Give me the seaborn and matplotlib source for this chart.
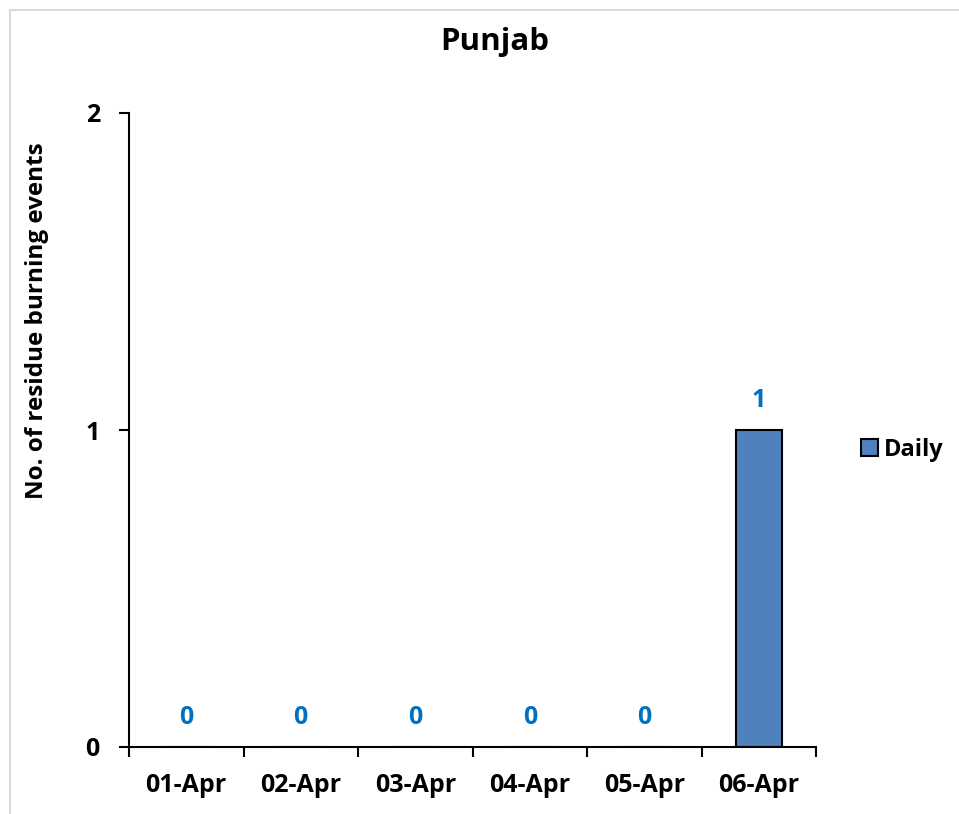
import numpy as np
import pandas as pd
import seaborn as sns
import matplotlib.pyplot as plt
from matplotlib.lines import Line2D
from matplotlib.patches import Patch

# data
dates = ['01-Apr', '02-Apr', '03-Apr', '04-Apr', '05-Apr', '06-Apr']
daily = [0, 0, 0, 0, 0, 1]

sns.set_theme(style='white')
plt.rcParams['font.family'] = ['Open Sans', 'DejaVu Sans']
plt.rcParams['font.weight'] = 'bold'
plt.rcParams['text.color'] = 'black'
plt.rcParams['axes.labelcolor'] = 'black'
plt.rcParams['xtick.color'] = 'black'
plt.rcParams['ytick.color'] = 'black'

df = pd.DataFrame({'date': dates, 'events': daily})

fig = plt.figure(figsize=(9.59, 8.14), dpi=100)
ax = fig.add_axes([129/959, 1 - 747/814, (816 - 129)/959, (747 - 113)/814])

sns.barplot(data=df, x='date', y='events', color='#4F81BD', saturation=1,
            width=0.4, edgecolor='black', linewidth=1.5, ax=ax)

#value labels above each bar
for i, v in enumerate(daily):
    ax.annotate(str(v), xy=(i, v), xytext=(0, 21), textcoords='offset points',
                ha='center', va='center', color='#0070C0', fontsize=18, fontweight='bold')

ax.set_ylim(0, 2)
ax.set_xlim(-0.5, len(dates) - 0.5)
ax.set_yticks([0, 1, 2])
ax.set_yticklabels(['0', '1', '2'], fontsize=18, fontweight='bold')
ax.set_xticks(range(len(dates)))
ax.set_xticklabels(dates, fontsize=18, fontweight='bold')
ax.tick_params(axis='x', length=0, pad=19)
ax.tick_params(axis='y', left=True, length=7, width=1.5, pad=14)
# tick marks between categories
ax.set_xticks(np.arange(-0.5, len(dates)), minor=True)
ax.tick_params(axis='x', which='minor', bottom=True, length=7, width=1.5, direction='out')

for s in ['top', 'right']:
    ax.spines[s].set_visible(False)
for s in ['left', 'bottom']:
    ax.spines[s].set_color('black')
    ax.spines[s].set_linewidth(1.5)

ax.set_xlabel('')
ax.set_ylabel('No. of residue burning events', fontsize=17.5, fontweight='bold')
ax.yaxis.set_label_coords(-0.117, 0.673)
fig.text(495/959, 1 - 42/814, 'Punjab', ha='center', va='center', fontsize=22.5, fontweight='bold')

handles = [Patch(facecolor='#4F81BD', edgecolor='black', linewidth=1.5, label='Daily')]
fig.legend(handles=handles, loc='center left', bbox_to_anchor=(840/959, 1 - 450/814),
           frameon=False, prop={'size': 17, 'weight': 'bold'}, handlelength=0.7,
           handleheight=0.7, handletextpad=0.25)

# light outer frame
fig.add_artist(Line2D([10/959, 10/959], [0, 1 - 10/814], transform=fig.transFigure, color='#d9d9d9', lw=1.5))
fig.add_artist(Line2D([10/959, 1], [1 - 10/814, 1 - 10/814], transform=fig.transFigure, color='#d9d9d9', lw=1.5))

plt.savefig('out.png', dpi=100)
